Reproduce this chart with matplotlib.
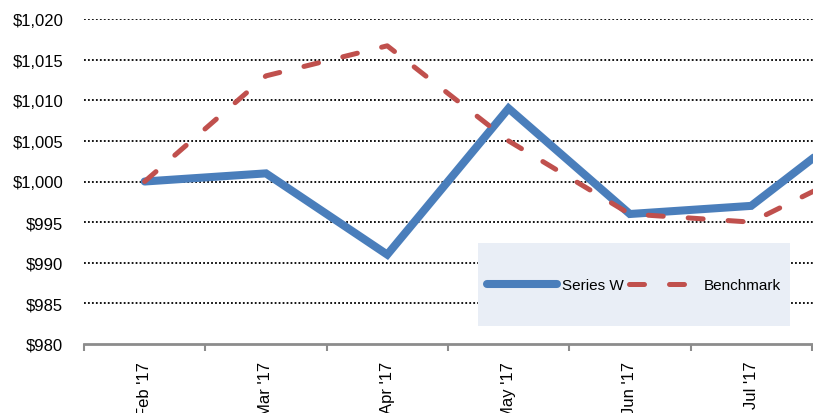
import numpy as np
import matplotlib.pyplot as plt
from matplotlib.patches import Rectangle

# data
months = ["Feb '17", "Mar '17", "Apr '17", "May '17", "Jun '17", "Jul '17", "Aug '17"]
series_w = [1000, 1001, 991, 1009, 996, 997, 1008.5]
benchmark = [1000, 1013, 1016.7, 1005, 996, 995, 1002.4]
y_ticks = [980, 985, 990, 995, 1000, 1005, 1010, 1015, 1020]

plt.rcParams['font.family'] = ['Liberation Sans', 'DejaVu Sans']

fig = plt.figure(figsize=(8.13, 4.14), dpi=100)
# axes run past the right edge, like the cropped original
ax = fig.add_axes([84 / 813, 1 - 345 / 414, 7 * 121.3 / 813, (345 - 20) / 414])

x = np.arange(len(months))
ax.plot(x, series_w, color='#4A7EBB', linewidth=5.8, solid_capstyle='round',
        solid_joinstyle='miter', label='Series W', zorder=3)
ax.plot(x, benchmark, color='#C0504D', linewidth=3.6, linestyle=(0, (3.0, 5.0)),
        dash_capstyle='round', label='Benchmark', zorder=4)

ax.set_xlim(-0.5, len(months) - 0.5)
ax.set_ylim(980, 1020)
ax.set_yticks(y_ticks)
ax.set_yticklabels([f'${v:,}' for v in y_ticks])
ax.set_xticks(x)
ax.set_xticklabels(months, rotation=90)
ax.set_xticks(np.arange(-0.5, len(months), 1), minor=True)
ax.tick_params(axis='x', which='major', length=0, pad=12, labelsize=12)
ax.tick_params(axis='x', which='minor', length=5, width=1.5, color='#8C8C8C', direction='out')
ax.tick_params(axis='y', length=0, pad=15, labelsize=12)

for v in y_ticks[1:]:
    ax.axhline(v, color='black', linewidth=1.3, linestyle=(0, (1, 1.2)), zorder=1)

for s in ['top', 'right', 'left']:
    ax.spines[s].set_visible(False)
ax.spines['bottom'].set_color('#8C8C8C')
ax.spines['bottom'].set_linewidth(2)

# legend panel
box = Rectangle((478 / 813, 1 - 327 / 414), 312 / 813, 83 / 414, transform=fig.transFigure,
                facecolor='#E9EEF6', edgecolor='none', zorder=5)
ax.add_patch(box)
box.set_clip_on(False)
leg = ax.legend(loc='center', bbox_to_anchor=(634 / 813, 1 - 286 / 414),
                bbox_transform=fig.transFigure, ncol=2, frameon=False, fontsize=11,
                handlelength=4.6, handletextpad=0.3, columnspacing=0.4)
leg.set_zorder(6)

fig.savefig('out.png', dpi=100)
